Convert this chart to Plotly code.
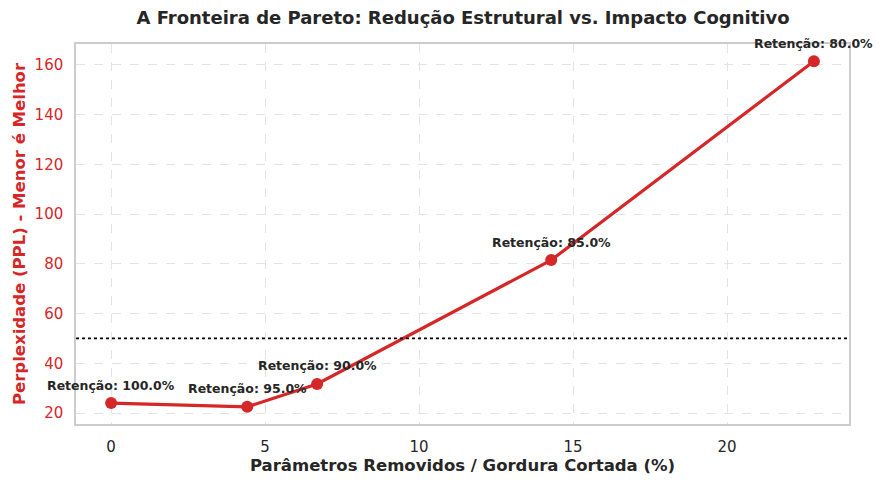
import plotly.graph_objects as go

# Pontos da fronteira de Pareto
removed_pct = [0.0, 4.42, 6.69, 14.29, 22.82]
perplexity = [24.0, 22.5, 31.7, 81.5, 161.5]
retention = ["100.0%", "95.0%", "90.0%", "85.0%", "80.0%"]
threshold = 50

red = "#d62728"
dark = "#262626"

fig = go.Figure()

fig.add_trace(go.Scatter(
    x=removed_pct,
    y=perplexity,
    mode="lines+markers",
    line=dict(color=red, width=3.2),
    marker=dict(color=red, size=12),
    showlegend=False,
))

# linha pontilhada de referência
fig.add_hline(y=threshold, line=dict(color="black", width=1.8, dash="dot"))

for x, y, r in zip(removed_pct, perplexity, retention):
    fig.add_annotation(
        x=x, y=y,
        text=f"<b>Retenção: {r}</b>",
        showarrow=False,
        yshift=18,
        font=dict(size=12.5, color=dark),
    )

axis_common = dict(
    showline=True, linecolor="#cccccc", linewidth=1.5, mirror=True,
    showgrid=True, gridcolor="#e3e3e3", griddash="dash", gridwidth=1,
    zeroline=False, ticks="outside", tickcolor="rgba(0,0,0,0)",
    automargin=False,
)

# a página tem 8px de margem no body, por isso 875x478
fig.update_layout(
    width=875, height=478,
    margin=dict(l=68, r=34, t=36, b=62),
    paper_bgcolor="white",
    plot_bgcolor="white",
    font=dict(family="DejaVu Sans", color=dark),
    title=dict(
        text="<b>A Fronteira de Pareto: Redução Estrutural vs. Impacto Cognitivo</b>",
        x=0.52, xanchor="center", y=0.98, yanchor="middle",
        font=dict(size=18, color=dark),
    ),
    xaxis=dict(
        **axis_common,
        ticklen=8,
        range=[-1.14, 23.96],
        tickvals=[0, 5, 10, 15, 20],
        tickfont=dict(size=15, color=dark),
        title=dict(text="<b>Parâmetros Removidos / Gordura Cortada (%)</b>",
                   font=dict(size=16.5, color=dark), standoff=4),
    ),
    yaxis=dict(
        **axis_common,
        ticklen=8,
        range=[15.6, 168.4],
        tickvals=[20, 40, 60, 80, 100, 120, 140, 160],
        tickfont=dict(size=15, color=red),
        title=dict(text="<b>Perplexidade (PPL) - Menor é Melhor</b>",
                   font=dict(size=16.5, color=red), standoff=5),
    ),
)

fig.write_html("out.html")
